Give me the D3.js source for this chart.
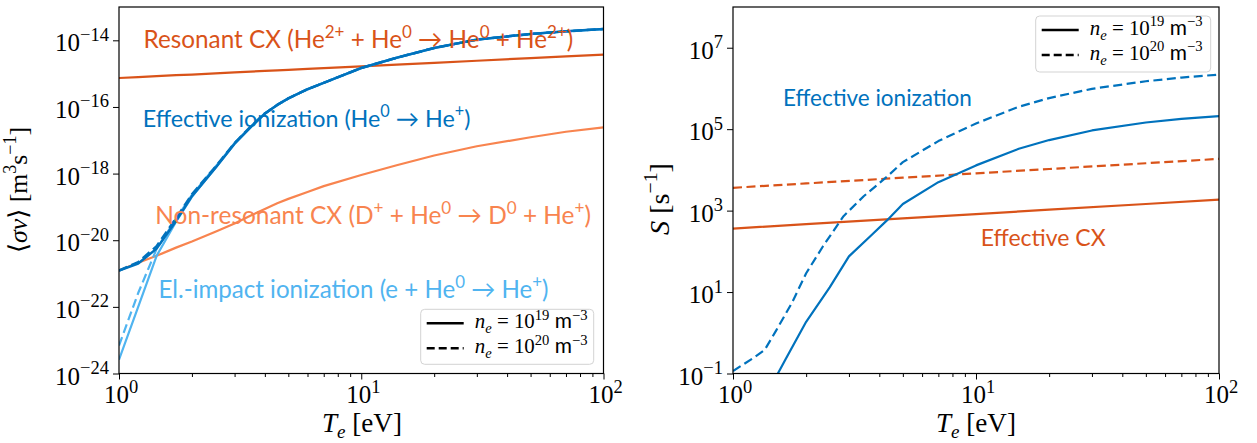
<!DOCTYPE html>
<html lang="en">
<head>
<meta charset="UTF-8">
<title>Helium rate coefficients and source rates</title>
<script src="https://d3js.org/d3.v7.min.js"></script>
<style>
  body { margin: 0; background: #fff; }
  svg { display: block; }
  .tick line { stroke: #000; stroke-width: 1; }
</style>
</head>
<body>
<svg width="1257" height="443"></svg>
<script>
// ---- left panel: rate coefficients <sigma v> [m^3 s^-1] ----
var teLeft   = [1, 1.2, 1.43, 1.72, 2, 2.5, 3, 3.5, 4, 4.5, 5, 6, 7, 10, 14, 20, 30, 50, 70, 100];
var effIon19 = [1.23e-21, 2.0e-21, 5.6e-21, 3.8e-20, 2.1e-19, 1.48e-18, 7.9e-18, 2.5e-17, 6.3e-17, 1.15e-16, 1.8e-16, 3.4e-16, 5.3e-16, 1.48e-15, 3.0e-15, 5.9e-15, 1.05e-14, 1.55e-14, 1.86e-14, 2.19e-14];
var effIon20 = [1.23e-21, 2.2e-21, 6.6e-21, 4.6e-20, 2.4e-19, 1.6e-18, 8.3e-18, 2.6e-17, 6.4e-17, 1.15e-16, 1.8e-16, 3.4e-16, 5.3e-16, 1.48e-15, 3.0e-15, 5.9e-15, 1.05e-14, 1.55e-14, 1.86e-14, 2.19e-14];
var elImp19  = [2.6e-24, 1.0e-22, 3.4e-21, 3.6e-20, 2.0e-19, 1.48e-18, 7.9e-18, 2.5e-17, 6.3e-17, 1.15e-16, 1.8e-16, 3.4e-16, 5.3e-16, 1.48e-15, 3.0e-15, 5.9e-15, 1.05e-14, 1.55e-14, 1.86e-14, 2.19e-14];
var elImp20  = [6.9e-24, 2.6e-22, 5.5e-21, 4.4e-20, 2.3e-19, 1.6e-18, 8.3e-18, 2.6e-17, 6.4e-17, 1.15e-16, 1.8e-16, 3.4e-16, 5.3e-16, 1.48e-15, 3.0e-15, 5.9e-15, 1.05e-14, 1.55e-14, 1.86e-14, 2.19e-14];
var resCX    = [7.4e-16, 7.9e-16, 8.4e-16, 9.0e-16, 9.4e-16, 1.02e-15, 1.09e-15, 1.15e-15, 1.21e-15, 1.26e-15, 1.30e-15, 1.39e-15, 1.47e-15, 1.66e-15, 1.87e-15, 2.11e-15, 2.44e-15, 2.92e-15, 3.28e-15, 3.72e-15];
var nonResCX = [1.23e-21, 2.1e-21, 3.4e-21, 6.0e-21, 9.1e-21, 1.8e-20, 3.2e-20, 5.5e-20, 8.7e-20, 1.29e-19, 1.74e-19, 2.8e-19, 4.2e-19, 9.1e-19, 1.78e-18, 3.5e-18, 6.6e-18, 1.23e-17, 1.8e-17, 2.45e-17];
var leftYTicks = [-24, -22, -20, -18, -16, -14];   // exponents

// ---- right panel: source rates S [s^-1] ----
var teS19  = [1.4, 1.53, 1.65, 2, 2.5, 3, 3.7, 4.3, 5, 7, 10, 15, 20, 30, 50, 70, 100];
var sIon19 = [0.05, 0.1, 0.23, 1.86, 13, 75, 245, 575, 1450, 5000, 12900, 33000, 54000, 93000, 146000, 178000, 209000];
var teS20  = [1, 1.2, 1.35, 1.5, 1.75, 2, 2.35, 2.85, 3.45, 4.3, 5, 7, 10, 15, 20, 30, 50, 70, 100];
var sIon20 = [0.115, 0.23, 0.38, 1.1, 5.5, 29, 135, 730, 2250, 6800, 15500, 51000, 138000, 355000, 580000, 980000, 1500000, 1850000, 2190000];
var teCX   = [1, 2, 5, 10, 20, 50, 100];
var sCX19  = [363, 465, 643, 822, 1052, 1455, 1862];
var sCX20  = [3630, 4650, 6430, 8220, 10520, 14550, 18620];
var rightYTicks = [-1, 1, 3, 5, 7];

var xTicks = [0, 1, 2];
var xMinor = [2, 3, 4, 5, 6, 7, 8, 9, 20, 30, 40, 50, 60, 70, 80, 90];

var SERIF = "'Liberation Serif', 'DejaVu Serif', serif";
var SANS = "Lato, 'DejaVu Sans', sans-serif";
var cEff = "#0072bd", cEl = "#50b4f0", cRes = "#d95319", cNon = "#f8844f";

var svg = d3.select("svg");
var Y0 = 7, Y1 = 373.5;

function rich(parent, parts, size, family, supScale) {
  var t = parent.append("text").attr("font-family", family).attr("font-size", size);
  var cur = 0;
  parts.forEach(function (p) {
    if (typeof p === "string") p = {t: p};
    var off = p.sup ? -0.42 * size : p.sub ? 0.22 * size : 0;
    var s = t.append("tspan").text(p.t);
    if (p.sup || p.sub) s.attr("font-size", size * (supScale || 0.7));
    if (p.it) s.attr("font-style", "italic");
    if (p.f) s.attr("font-family", p.f);
    if (off !== cur) { s.attr("dy", off - cur); cur = off; }
  });
  return t;
}

// scale text uniformly so it spans the given width
function fit(t, x, y, w, anchor, rot) {
  t.attr("text-anchor", anchor || "start");
  var k = w / t.node().getComputedTextLength();
  t.attr("transform", "translate(" + x + "," + y + ")" + (rot ? " rotate(" + rot + ")" : "") + " scale(" + k + ")");
  return t;
}

function panel(id, x0, x1, yDomain, yTicks) {
  var x = d3.scaleLog().domain([1, 100]).range([x0, x1]);
  var y = d3.scaleLog().domain(yDomain).range([Y1, Y0]);
  var g = svg.append("g");

  g.append("clipPath").attr("id", id).append("rect")
    .attr("x", x0).attr("y", Y0).attr("width", x1 - x0).attr("height", Y1 - Y0);

  var axB = g.append("g").attr("transform", "translate(0," + Y1 + ")")
    .call(d3.axisBottom(x).tickValues(xTicks.map(function (e) { return Math.pow(10, e); }))
      .tickSize(6).tickSizeOuter(0).tickFormat(""));
  axB.select(".domain").remove();
  var axM = g.append("g").attr("transform", "translate(0," + Y1 + ")")
    .call(d3.axisBottom(x).tickValues(xMinor).tickSize(3.5).tickSizeOuter(0).tickFormat(""));
  axM.select(".domain").remove();
  var axL = g.append("g").attr("transform", "translate(" + x0 + ",0)")
    .call(d3.axisLeft(y).tickValues(yTicks.map(function (e) { return Math.pow(10, e); }))
      .tickSize(6).tickSizeOuter(0).tickFormat(""));
  axL.select(".domain").remove();

  xTicks.forEach(function (e) {
    rich(g, ["10", {t: String(e), sup: true}], 25, SERIF, 0.74)
      .attr("x", x(Math.pow(10, e)) + 2).attr("y", 403).attr("text-anchor", "middle");
  });
  yTicks.forEach(function (e) {
    rich(g, ["10", {t: (e < 0 ? "\u2212" : "") + Math.abs(e), sup: true}], 25, SERIF, 0.74)
      .attr("x", x0 - 10).attr("y", y(Math.pow(10, e)) + 11).attr("text-anchor", "end");
  });

  var plot = g.append("g").attr("clip-path", "url(#" + id + ")");
  return {x: x, y: y, g: g, plot: plot, x0: x0, x1: x1};
}

function addLine(p, te, vals, color, dashed, w) {
  var line = d3.line().x(function (d) { return p.x(d[0]); }).y(function (d) { return p.y(d[1]); });
  p.plot.append("path").datum(d3.zip(te, vals))
    .attr("d", line).attr("fill", "none").attr("stroke", color)
    .attr("stroke-width", w || 2.2).attr("stroke-dasharray", dashed ? "9,4.5" : null)
    .attr("stroke-linejoin", "round");
}

function frame(p) {
  p.g.append("rect").attr("x", p.x0).attr("y", Y0).attr("width", p.x1 - p.x0).attr("height", Y1 - Y0)
    .attr("fill", "none").attr("stroke", "#000").attr("stroke-width", 1.2);
}

function legend(p, bx, by, bw, bh) {
  var g = p.g.append("g");
  g.append("rect").attr("x", bx).attr("y", by).attr("width", bw).attr("height", bh)
    .attr("rx", 4).attr("fill", "#fff").attr("fill-opacity", 0.85)
    .attr("stroke", "#d3d3d3").attr("stroke-width", 1);
  [["19", false], ["20", true]].forEach(function (r, i) {
    var ly = by + 14 + i * 25;
    g.append("line").attr("x1", bx + 6).attr("x2", bx + 43).attr("y1", ly).attr("y2", ly)
      .attr("stroke", "#000").attr("stroke-width", 2.4).attr("stroke-dasharray", r[1] ? "8,4" : null);
    var t = rich(g, [{t: "n", it: true}, {t: "e", it: true, sub: true}, " = 10", {t: r[0], sup: true},
      {t: " m", f: SANS}, {t: "\u22123", sup: true}], 15, SERIF);
    fit(t, bx + 54, ly + 5, 113);
  });
}

// ---------- left panel ----------
var L = panel("clipL", 119, 603.5, [1e-24, 1e-13], leftYTicks);
addLine(L, teLeft, resCX, cRes, false);
addLine(L, teLeft, nonResCX, cNon, false);
addLine(L, teLeft, elImp19, cEl, false);
addLine(L, teLeft, elImp20, cEl, true);
addLine(L, teLeft, effIon19, cEff, false, 2.5);
addLine(L, teLeft, effIon20, cEff, true, 2.5);
frame(L);

fit(rich(L.g, ["Resonant CX (He", {t: "2+", sup: true}, " + He", {t: "0", sup: true}, " \u2192 He",
  {t: "0", sup: true}, " + He", {t: "2+", sup: true}, ")"], 20, SANS).attr("fill", cRes), 143.5, 48, 430);
fit(rich(L.g, ["Effective ionization (He", {t: "0", sup: true}, " \u2192 He", {t: "+", sup: true}, ")"], 20, SANS)
  .attr("fill", cEff), 142.7, 127, 328);
fit(rich(L.g, ["Non-resonant CX (D", {t: "+", sup: true}, " + He", {t: "0", sup: true}, " \u2192 D",
  {t: "0", sup: true}, " + He", {t: "+", sup: true}, ")"], 20, SANS).attr("fill", cNon), 155.3, 224, 436);
fit(rich(L.g, ["El.-impact ionization (e + He", {t: "0", sup: true}, " \u2192 He", {t: "+", sup: true}, ")"], 20, SANS)
  .attr("fill", cEl), 158.5, 298, 390);
legend(L, 420.7, 309.3, 173, 55);

fit(rich(L.g, [{t: "T", it: true}, {t: "e", it: true, sub: true}, " [eV]"], 23, SERIF), 362, 432, 80, "middle");
fit(rich(L.g, ["\u27e8", {t: "\u03c3v", it: true}, "\u27e9 [m", {t: "3", sup: true}, "s", {t: "\u22121", sup: true}, "]"], 23, SERIF),
  27, 190, 126, "middle", -90);

// ---------- right panel ----------
var R = panel("clipR", 733, 1219, [1e-1, 1e8], rightYTicks);
addLine(R, teCX, sCX19, cRes, false);
addLine(R, teCX, sCX20, cRes, true);
addLine(R, teS19, sIon19, cEff, false);
addLine(R, teS20, sIon20, cEff, true);
frame(R);

fit(rich(R.g, ["Effective ionization"], 20, SANS).attr("fill", cEff), 783, 106, 189);
fit(rich(R.g, ["Effective CX"], 20, SANS).attr("fill", cRes), 980.7, 246, 125);
legend(R, 1035.7, 16, 175, 56);

fit(rich(R.g, [{t: "T", it: true}, {t: "e", it: true, sub: true}, " [eV]"], 23, SERIF), 976, 432, 80, "middle");
fit(rich(R.g, [{t: "S", it: true}, " [s", {t: "\u22121", sup: true}, "]"], 23, SERIF), 669, 199, 72, "middle", -90);
</script>
</body>
</html>
